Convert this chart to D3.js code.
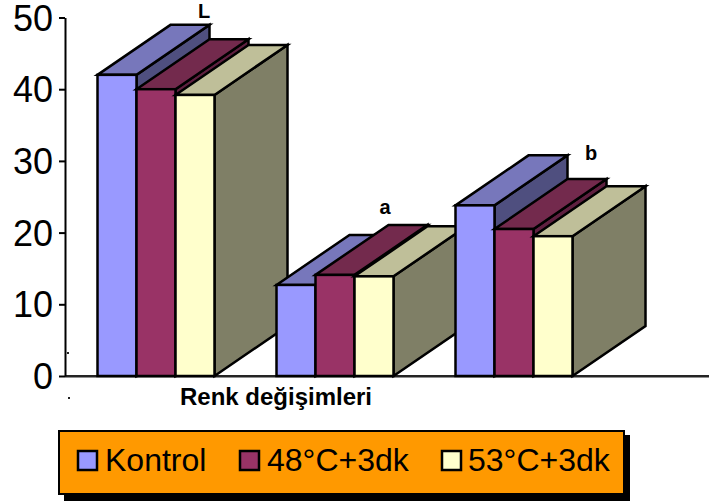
<!DOCTYPE html>
<html>
<head>
<meta charset="utf-8">
<script src="https://cdn.jsdelivr.net/npm/d3@7"></script>
<style>
html,body{margin:0;padding:0;background:#fff;}
svg{display:block;font-family:"Liberation Sans",Arial,sans-serif;}
</style>
</head>
<body>
<svg id="chart" width="709" height="501"></svg>
<script>
var categories = ["L", "a", "b"];
var seriesNames = ["Kontrol", "48°C+3dk", "53°C+3dk"];
var kontrol = [42, 12.7, 23.8];
var c48 = [40, 14.1, 20.5];
var c53 = [39.2, 13.9, 19.5];
var yTicks = [0, 10, 20, 30, 40, 50];
var xTitle = "Renk değişimleri";

var values = [kontrol, c48, c53];
var front = ["#9999ff", "#993366", "#ffffcc"];
var top_ = ["#7777bb", "#732a4d", "#bfbf99"];
var side = ["#4f4f7f", "#5f2040", "#7f7f66"];

var svg = d3.select("#chart");

var y = d3.scaleLinear().domain([0, 50]).range([376, 17.5]);
var x0 = d3.scaleBand().domain(categories).range([97.5, 572.5]).paddingInner(62 / 179);
var x1 = d3.scaleBand().domain(d3.range(3)).range([0, x0.bandwidth()]);

var dx = 73, dy = -50; /// depth of the 3d bars

/// baseline, grey with a black core
svg.append("line")
    .attr("x1", 65).attr("x2", 709)
    .attr("y1", y(0) + 0.5).attr("y2", y(0) + 0.5)
    .attr("stroke", "#909090").attr("stroke-width", 3);
svg.append("line")
    .attr("x1", 65).attr("x2", 709)
    .attr("y1", y(0)).attr("y2", y(0))
    .attr("stroke", "#000").attr("stroke-width", 1.5);

/// bars, left to right so later ones cover earlier ones
categories.forEach(function(cat, i) {
  values.forEach(function(vals, s) {
    var l = x0(cat) + x1(s), r = l + x1.bandwidth();
    var t = y(vals[i]), b = y(0);
    var g = svg.append("g").attr("stroke", "#000").attr("stroke-width", 2.5).attr("stroke-linejoin", "miter");
    g.append("path").attr("fill", side[s])
      .attr("d", d3.line()([[r, b], [r + dx, b + dy], [r + dx, t + dy], [r, t]]) + "Z");
    g.append("path").attr("fill", top_[s])
      .attr("d", d3.line()([[l, t], [l + dx, t + dy], [r + dx, t + dy], [r, t]]) + "Z");
    g.append("rect").attr("fill", front[s])
      .attr("x", l).attr("y", t).attr("width", r - l).attr("height", b - t);
  });
});

/// y axis
var axis = svg.append("g")
    .attr("transform", "translate(65,0)")
    .call(d3.axisLeft(y).tickValues(yTicks).tickSizeInner(6).tickSizeOuter(0).tickPadding(6));
axis.selectAll("path,line").attr("stroke", "#000").attr("stroke-width", 2);
axis.selectAll("text").attr("font-size", 36).attr("dy", "0.35em").attr("fill", "#000").attr("font-family", "Liberation Sans");

/// stray dots
svg.append("rect").attr("x", 67).attr("y", 352).attr("width", 2).attr("height", 2).attr("fill", "#222");
svg.append("rect").attr("x", 68).attr("y", 397).attr("width", 2).attr("height", 2).attr("fill", "#222");

/// letters above the groups
var labelX = [204, 385, 591], labelY = [17.5, 214, 160];
categories.forEach(function(cat, i) {
  svg.append("text").attr("x", labelX[i]).attr("y", labelY[i])
     .attr("text-anchor", "middle").attr("font-size", 20).attr("font-weight", "bold").text(cat);
});

svg.append("text").attr("x", 276).attr("y", 405).attr("text-anchor", "middle")
   .attr("font-size", 24).attr("font-weight", "bold").text(xTitle);

/// legend
svg.append("rect").attr("x", 64).attr("y", 435).attr("width", 566).attr("height", 66).attr("fill", "#000");
svg.append("rect").attr("x", 59).attr("y", 431).attr("width", 565).attr("height", 63)
   .attr("fill", "#ff9900").attr("stroke", "#000").attr("stroke-width", 2);

var swatchX = [78, 240, 442], textX = [105, 267, 468];
seriesNames.forEach(function(name, i) {
  svg.append("rect").attr("x", swatchX[i]).attr("y", 451).attr("width", 19).attr("height", 19)
     .attr("fill", front[i]).attr("stroke", "#000").attr("stroke-width", 2.5);
  svg.append("text").attr("x", textX[i]).attr("y", 471).attr("font-size", 32).text(name);
});
</script>
</body>
</html>
